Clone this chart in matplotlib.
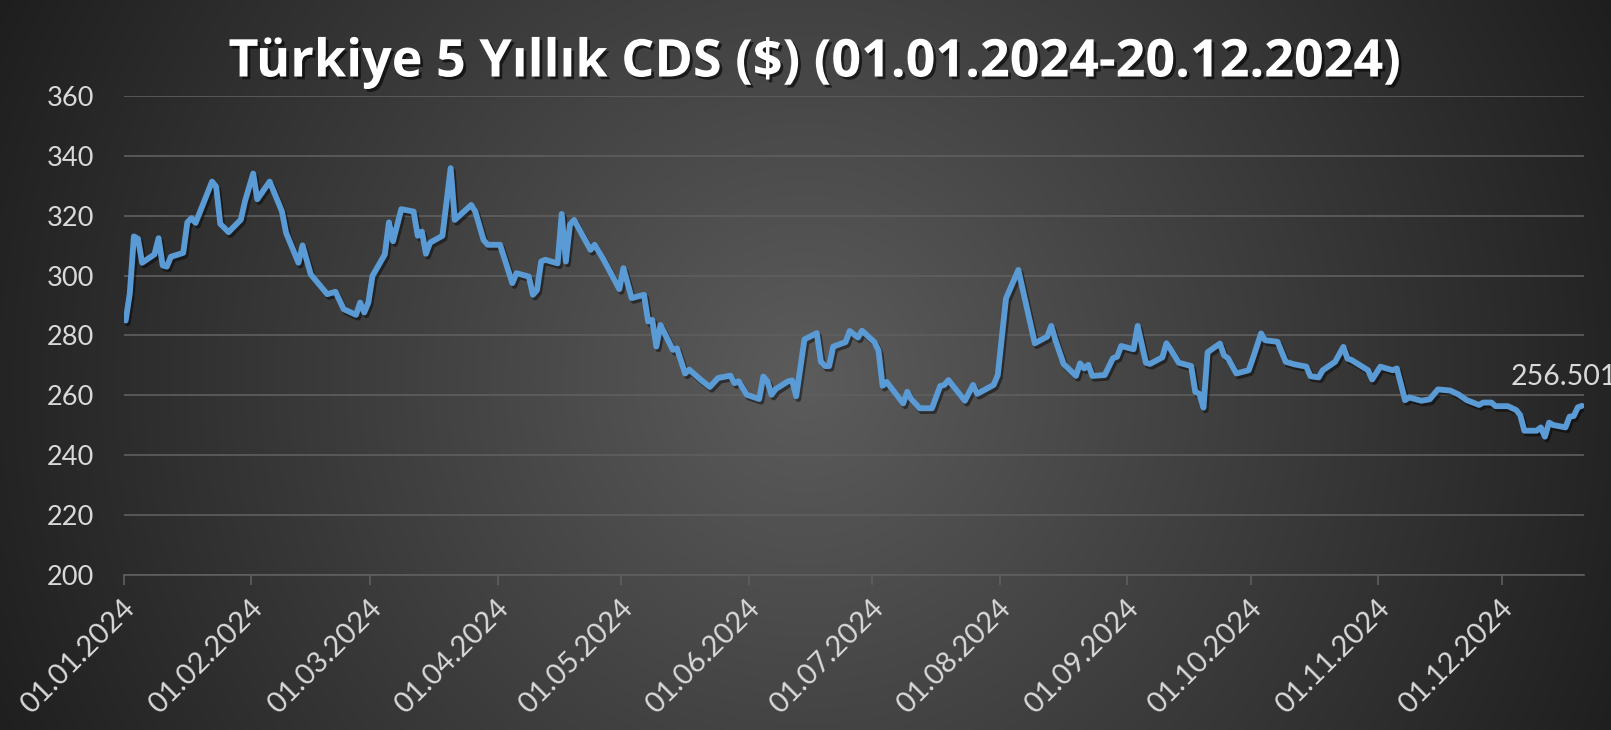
import numpy as np
import pandas as pd
import matplotlib
matplotlib.use('Agg')
import matplotlib.pyplot as plt
import matplotlib.dates as mdates
import matplotlib.patheffects as pe
from matplotlib.transforms import ScaledTranslation

# ---------------- data ----------------
dates = [
    "2024-01-01", "2024-01-02", "2024-01-03", "2024-01-04", "2024-01-05",
    "2024-01-08", "2024-01-09", "2024-01-10", "2024-01-11", "2024-01-12",
    "2024-01-15", "2024-01-16", "2024-01-17", "2024-01-18", "2024-01-22",
    "2024-01-23", "2024-01-24", "2024-01-26", "2024-01-29", "2024-01-30",
    "2024-02-01", "2024-02-02", "2024-02-05", "2024-02-07", "2024-02-08",
    "2024-02-09", "2024-02-12", "2024-02-13", "2024-02-15", "2024-02-19",
    "2024-02-21", "2024-02-23", "2024-02-26", "2024-02-27", "2024-02-28",
    "2024-02-29", "2024-03-01", "2024-03-04", "2024-03-05", "2024-03-06",
    "2024-03-08", "2024-03-11", "2024-03-12", "2024-03-13", "2024-03-14",
    "2024-03-15", "2024-03-18", "2024-03-20", "2024-03-21", "2024-03-25",
    "2024-03-26", "2024-03-28", "2024-03-29", "2024-04-01", "2024-04-04",
    "2024-04-05", "2024-04-08", "2024-04-09", "2024-04-10", "2024-04-11",
    "2024-04-12", "2024-04-15", "2024-04-16", "2024-04-17", "2024-04-18",
    "2024-04-19", "2024-04-23", "2024-04-24", "2024-04-26", "2024-04-30",
    "2024-05-01", "2024-05-03", "2024-05-06", "2024-05-07", "2024-05-08",
    "2024-05-09", "2024-05-10", "2024-05-13", "2024-05-14", "2024-05-16",
    "2024-05-17", "2024-05-20", "2024-05-22", "2024-05-24", "2024-05-27",
    "2024-05-28", "2024-05-29", "2024-05-31", "2024-06-03", "2024-06-04",
    "2024-06-05", "2024-06-06", "2024-06-07", "2024-06-10", "2024-06-11",
    "2024-06-12", "2024-06-14", "2024-06-17", "2024-06-18", "2024-06-19",
    "2024-06-20", "2024-06-21", "2024-06-24", "2024-06-25", "2024-06-27",
    "2024-06-28", "2024-07-01", "2024-07-02", "2024-07-03", "2024-07-04",
    "2024-07-08", "2024-07-09", "2024-07-10", "2024-07-12", "2024-07-15",
    "2024-07-17", "2024-07-18", "2024-07-19", "2024-07-23", "2024-07-25",
    "2024-07-26", "2024-07-30", "2024-07-31", "2024-08-02", "2024-08-05",
    "2024-08-09", "2024-08-12", "2024-08-13", "2024-08-14", "2024-08-16",
    "2024-08-19", "2024-08-20", "2024-08-21", "2024-08-22", "2024-08-23",
    "2024-08-26", "2024-08-28", "2024-08-29", "2024-08-30", "2024-09-02",
    "2024-09-03", "2024-09-05", "2024-09-06", "2024-09-09", "2024-09-10",
    "2024-09-11", "2024-09-13", "2024-09-16", "2024-09-17", "2024-09-18",
    "2024-09-19", "2024-09-20", "2024-09-23", "2024-09-24", "2024-09-25",
    "2024-09-27", "2024-09-30", "2024-10-01", "2024-10-03", "2024-10-04",
    "2024-10-07", "2024-10-09", "2024-10-11", "2024-10-14", "2024-10-15",
    "2024-10-17", "2024-10-18", "2024-10-21", "2024-10-23", "2024-10-24",
    "2024-10-25", "2024-10-29", "2024-10-30", "2024-11-01", "2024-11-04",
    "2024-11-05", "2024-11-07", "2024-11-08", "2024-11-11", "2024-11-13",
    "2024-11-15", "2024-11-18", "2024-11-20", "2024-11-22", "2024-11-25",
    "2024-11-26", "2024-11-28", "2024-11-29", "2024-12-02", "2024-12-04",
    "2024-12-05", "2024-12-06", "2024-12-09", "2024-12-10", "2024-12-11",
    "2024-12-12", "2024-12-13", "2024-12-16", "2024-12-17", "2024-12-18",
    "2024-12-19", "2024-12-20",
]

cds_values = [
    285.0, 294.0, 313.1, 312.3, 304.3,
    307.1, 312.5, 303.4, 303.0, 306.3,
    307.6, 317.8, 319.2, 317.6, 331.4,
    329.7, 317.3, 314.5, 318.7, 324.8,
    334.1, 325.5, 331.4, 324.8, 321.4,
    314.3, 304.3, 310.1, 300.4, 293.8,
    294.6, 288.8, 286.9, 291.0, 287.7,
    291.0, 299.9, 307.1, 317.8, 311.5,
    322.2, 321.4, 313.3, 314.7, 307.3,
    311.0, 313.3, 335.9, 318.6, 323.6,
    321.4, 311.9, 310.3, 310.3, 297.5,
    300.8, 299.7, 293.6, 295.2, 304.7,
    305.3, 304.1, 320.6, 304.7, 317.0,
    318.6, 308.6, 310.3, 305.8, 295.5,
    302.5, 292.5, 293.6, 284.7, 285.2,
    276.3, 283.5, 275.2, 275.7, 267.3,
    268.6, 265.0, 262.8, 265.8, 266.6,
    264.1, 264.7, 260.2, 258.8, 266.3,
    264.7, 260.2, 262.1, 264.7, 265.0,
    259.7, 278.7, 280.8, 271.3, 269.8,
    269.8, 276.3, 277.8, 281.5, 279.3,
    281.6, 277.8, 275.0, 263.2, 264.5,
    257.3, 261.2, 258.7, 255.7, 255.7,
    263.1, 263.5, 265.1, 258.2, 263.5,
    260.5, 263.5, 266.8, 292.4, 301.9,
    277.4, 279.6, 283.2, 278.5, 270.5,
    266.5, 270.7, 269.0, 270.2, 266.5,
    266.8, 272.4, 272.9, 276.5, 275.4,
    283.2, 270.9, 270.5, 272.7, 277.4,
    275.4, 270.9, 269.8, 261.2, 260.5,
    255.9, 274.4, 277.3, 273.4, 272.3,
    267.3, 268.4, 272.3, 280.7, 278.4,
    277.9, 271.2, 270.4, 269.6, 266.4,
    266.0, 268.4, 271.2, 276.2, 272.3,
    271.8, 268.4, 265.3, 269.6, 268.4,
    269.0, 258.4, 259.3, 258.2, 258.7,
    262.0, 261.6, 260.3, 258.4, 256.8,
    257.6, 257.6, 256.4, 256.4, 255.1,
    253.4, 248.2, 248.2, 249.3, 246.2,
    250.9, 250.1, 249.3, 252.9, 253.1,
    256.0, 256.501,
]

title_text = "Türkiye 5 Yıllık CDS ($) (01.01.2024-20.12.2024)"
y_ticks = [200, 220, 240, 260, 280, 300, 320, 340, 360]
month_starts = ["2024-01-01", "2024-02-01", "2024-03-01", "2024-04-01",
                "2024-05-01", "2024-06-01", "2024-07-01", "2024-08-01",
                "2024-09-01", "2024-10-01", "2024-11-01", "2024-12-01"]
last_label = "256.501"

# ---------------- styling ----------------
plt.rcParams['font.family'] = ['Lato', 'DejaVu Sans']
TEXT = '#d9d9d9'
GRID = '#5f5f5f'
LINE = '#5b9bd5'

W, H = 1611, 730
fig = plt.figure(figsize=(W / 100, H / 100), dpi=100)

# radial gradient background
bg = fig.add_axes([0, 0, 1, 1], zorder=-10)
yy, xx = np.mgrid[0:H, 0:W]
cx, cy = 0.50 * W, 0.52 * H
rad = np.hypot(0.5 * W, 0.5 * H)
r = np.clip(np.hypot(xx - cx, yy - cy) / rad, 0, 1)
c_center, c_edge = 0.36, 0.12
grad = c_center + (c_edge - c_center) * r
bg.imshow(np.dstack([grad, grad, grad]), aspect='auto', extent=[0, 1, 0, 1],
          interpolation='bilinear')
bg.set_axis_off()

# main plot area
left, right, top, bottom = 123.6, 1584.0, 96.0, 575.0
ax = fig.add_axes([left / W, 1 - bottom / H, (right - left) / W, (bottom - top) / H])
ax.patch.set_alpha(0)

x = mdates.date2num(pd.to_datetime(dates)) + 0.5
ax.plot(x, cds_values, color=LINE, lw=4.2, solid_joinstyle='round',
        solid_capstyle='round', zorder=3,
        path_effects=[pe.SimpleLineShadow(offset=(1.5, -2.0), shadow_color='black', alpha=0.45),
                      pe.Normal()])

x0 = mdates.date2num(pd.Timestamp("2024-01-01"))
ax.set_xlim(x0, x0 + 355)
ax.set_ylim(200, 360)

ax.set_yticks(y_ticks)
ax.set_yticklabels([str(v) for v in y_ticks])
ax.yaxis.grid(True, color=GRID, lw=1.2, zorder=0)
ax.tick_params(axis='y', length=0, pad=21, labelsize=19.5, labelcolor=TEXT)

mticks = mdates.date2num(pd.to_datetime(month_starts))
ax.set_xticks(mticks)
ax.set_xticklabels([pd.Timestamp(d).strftime('%d.%m.%Y') for d in month_starts])
ax.tick_params(axis='x', direction='out', length=7, width=1.2, color=GRID,
               pad=7.5, labelsize=21, labelcolor=TEXT)
shift = ScaledTranslation(-2 / 100, 0, fig.dpi_scale_trans)
for lab in ax.get_xticklabels():
    lab.set_rotation(45)
    lab.set_ha('right')
    lab.set_va('top')
    lab.set_rotation_mode('anchor')
    lab.set_transform(lab.get_transform() + shift)

for s in ['top', 'left', 'right']:
    ax.spines[s].set_visible(False)
ax.spines['bottom'].set_color(GRID)
ax.spines['bottom'].set_linewidth(1.2)

ax.annotate(last_label, xy=(x[-1], cds_values[-1]), xytext=(-51, 21),
            textcoords='offset points', ha='left', va='center',
            color=TEXT, fontsize=20.5, annotation_clip=False)

fig.text(0.506, 1 - 63 / H, title_text, ha='center', va='center',
         fontsize=37.5, fontweight='bold', color='white',
         family=['Open Sans', 'DejaVu Sans'],
         path_effects=[pe.SimplePatchShadow(offset=(2, -2), shadow_rgbFace='black', alpha=0.6),
                       pe.Normal()])

fig.savefig('out.png', dpi=100)
